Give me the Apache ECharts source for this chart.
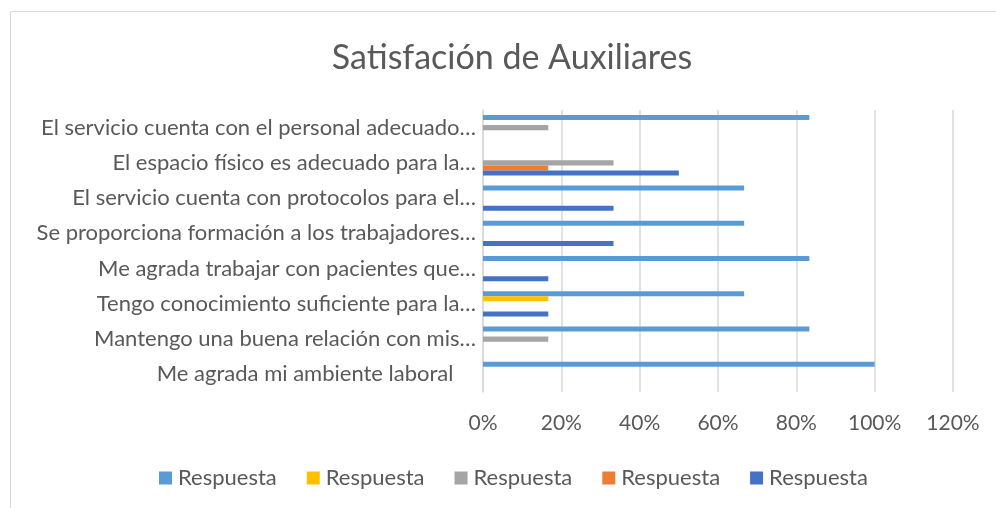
<!DOCTYPE html>
<html>
<head>
<meta charset="utf-8">
<script src="https://cdn.jsdelivr.net/npm/echarts@6/dist/echarts.min.js"></script>
<style>
html,body{margin:0;padding:0;background:#fff;}
#chart{width:996px;height:508px;}
</style>
</head>
<body>
<div id="chart"></div>
<script>
const titleText = 'Satisfación de Auxiliares';
const categories = [
  'El servicio cuenta con el personal adecuado…',
  'El espacio físico es adecuado para la…',
  'El servicio cuenta con protocolos para el…',
  'Se proporciona formación a los trabajadores…',
  'Me agrada trabajar con pacientes que…',
  'Tengo conocimiento suficiente para la…',
  'Mantengo una buena relación con mis…',
  'Me agrada mi ambiente laboral    '
];
const seriesNames = ['Respuesta', 'Respuesta', 'Respuesta', 'Respuesta', 'Respuesta'];
const respuesta1 = [83.33, null, 66.67, 66.67, 83.33, 66.67, 83.33, 100];
const respuesta2 = [null, null, null, null, null, 16.67, null, null];
const respuesta3 = [16.67, 33.33, null, null, null, null, 16.67, null];
const respuesta4 = [null, 16.67, null, null, null, null, null, null];
const respuesta5 = [null, 50, 33.33, 33.33, 16.67, 16.67, null, null];
const xTicks = [0, 20, 40, 60, 80, 100, 120];

const colors = ['#5B9BD5', '#FFC000', '#A5A5A5', '#ED7D31', '#4472C4'];
const seriesData = [respuesta1, respuesta2, respuesta3, respuesta4, respuesta5];
const FONT = 'Lato';
const TXT = '#595959';

const chart = echarts.init(document.getElementById('chart'), null, {renderer: 'canvas'});
const series = seriesData.map((d, i) => ({
  name: seriesNames[i] + '#' + i,
  type: 'bar',
  data: d,
  barGap: '0%',
  barCategoryGap: '29%',
  itemStyle: {color: colors[i]},
  emphasis: {disabled: true}
}));

chart.setOption({
  animation: false,
  color: colors,
  title: {
    text: titleText,
    left: 507,
    top: 36,
    textAlign: 'center',
    textStyle: {fontFamily: FONT, fontSize: 34, fontWeight: 'normal', color: TXT}
  },
  graphic: [{
    type: 'rect',
    shape: {x: 10.5, y: 11.5, width: 1100, height: 700},
    style: {fill: 'none', stroke: '#D9D9D9', lineWidth: 1},
    silent: true
  }],
  legend: {
    left: 159,
    top: 467,
    padding: 0,
    itemWidth: 13,
    itemHeight: 13,
    itemGap: 30,
    icon: 'rect',
    formatter: n => n.split('#')[0],
    textStyle: {fontFamily: FONT, fontSize: 22, color: TXT, padding: [0, 0, 0, 1]},
    data: seriesNames.map((n, i) => n + '#' + i)
  },
  grid: {left: 483, right: 43, top: 110, bottom: 116, containLabel: false},
  xAxis: {
    type: 'value',
    min: xTicks[0],
    max: xTicks[xTicks.length - 1],
    interval: 20,
    axisLine: {show: false},
    axisTick: {show: false},
    axisLabel: {formatter: '{value}%', fontFamily: FONT, fontSize: 21, color: TXT, margin: 21},
    splitLine: {lineStyle: {color: '#D9D9D9', width: 1.5}}
  },
  yAxis: {
    type: 'category',
    inverse: true,
    data: categories,
    axisLine: {show: true, lineStyle: {color: '#D9D9D9', width: 1.5}},
    axisTick: {show: false},
    axisLabel: {fontFamily: FONT, fontSize: 22, color: TXT, margin: 7}
  },
  series: series
});
</script>
</body>
</html>
